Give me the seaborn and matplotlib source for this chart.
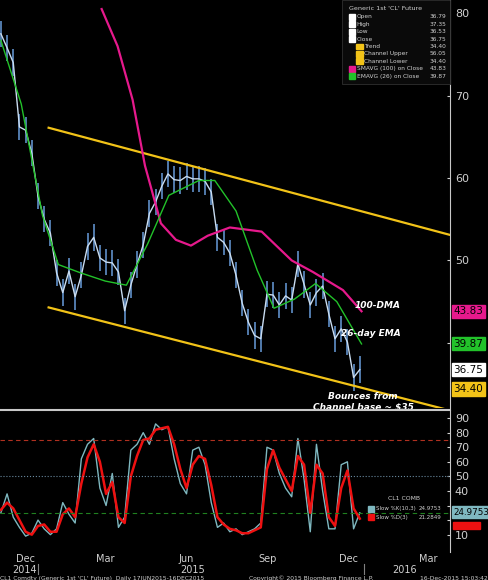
import matplotlib
matplotlib.use("Agg")
import matplotlib.pyplot as plt
import matplotlib.dates as mdates
import seaborn as sns
import pandas as pd
import numpy as np

# weekly closes, Generic 1st 'CL' Future
weeks = pd.date_range("2014-11-03", "2015-12-14", freq="7D")
close = [77.5, 75.8, 74.0, 66.2, 65.8, 63.0, 57.8, 55.0, 53.3, 48.5, 46.1, 48.7, 45.6,
         48.2, 51.7, 52.8, 50.3, 49.8, 49.7, 48.6, 43.9, 47.0, 49.5, 51.9, 55.7, 57.1,
         59.0, 60.5, 59.8, 59.7, 60.2, 59.9, 59.9, 59.6, 58.3, 52.8, 52.2, 50.9, 48.2,
         44.8, 42.5, 40.9, 40.5, 45.9, 45.8, 44.6, 45.7, 45.2, 49.6, 47.1, 44.6, 46.1,
         46.9, 43.5, 40.5, 41.7, 40.1, 35.8, 36.75]
high = [c + 1.6 for c in close]
low = [c - 1.6 for c in close]

sma_dates = pd.to_datetime(["2015-02-25", "2015-03-15", "2015-04-01", "2015-04-15", "2015-05-03",
                            "2015-05-20", "2015-06-06", "2015-06-25", "2015-07-20", "2015-08-25",
                            "2015-09-28", "2015-10-22", "2015-11-25", "2015-12-16"])
sma100 = [80.5, 76.0, 69.5, 61.5, 54.5, 52.5, 51.8, 53.0, 54.0, 53.5, 50.0, 48.6, 46.4, 43.83]

ema_dates = pd.to_datetime(["2014-11-03", "2014-11-26", "2014-12-20", "2015-01-07", "2015-02-01",
                            "2015-03-01", "2015-03-25", "2015-04-18", "2015-05-12", "2015-06-15",
                            "2015-07-03", "2015-07-27", "2015-08-20", "2015-09-08", "2015-10-01",
                            "2015-10-25", "2015-11-18", "2015-12-16"])
ema26 = [76.7, 69.0, 55.5, 49.5, 48.5, 47.5, 47.0, 52.0, 57.9, 59.7, 59.7, 56.0, 48.8,
         44.2, 45.3, 47.2, 45.0, 39.87]

chan_dates = pd.to_datetime(["2014-12-27", "2016-03-25"])
chan_upper = [66.1, 53.1]
chan_lower = [44.3, 31.8]

stoch_k = [25, 38, 22, 15, 9, 11, 20, 14, 10, 14, 32, 24, 18, 62, 72, 76, 42, 30, 52,
           15, 22, 68, 72, 80, 72, 86, 82, 84, 62, 45, 38, 68, 70, 58, 32, 15, 18, 12,
           14, 10, 12, 14, 18, 70, 68, 52, 42, 36, 76, 48, 12, 72, 40, 14, 14, 58, 60, 14, 25]
stoch_d = [27, 32, 28, 20, 12, 10, 16, 17, 12, 12, 24, 28, 22, 45, 63, 72, 60, 38, 46,
           22, 18, 50, 64, 75, 76, 82, 83, 84, 72, 55, 42, 58, 64, 62, 44, 22, 17, 14,
           13, 11, 11, 13, 15, 55, 68, 56, 48, 40, 64, 58, 25, 58, 52, 22, 16, 42, 54, 28, 21]

t_end = pd.Timestamp("2016-03-25")
bg = "black"
fig = plt.figure(figsize=(4.88, 5.8), dpi=100, facecolor=bg)
ax = fig.add_axes([0, 0.2966, 0.922, 0.7034], facecolor=bg)
ax2 = fig.add_axes([0, 0.048, 0.922, 0.245], facecolor=bg)

ax.vlines(weeks, low, high, color="#5f8fc9", lw=1.2)
sns.lineplot(x=weeks, y=close, ax=ax, color="#c9dcf0", lw=1.0)
sns.lineplot(x=chan_dates, y=chan_upper, ax=ax, color="#f2c318", lw=1.6)
sns.lineplot(x=chan_dates, y=chan_lower, ax=ax, color="#f2c318", lw=1.6)
sns.lineplot(x=sma_dates, y=sma100, ax=ax, color="#e6198c", lw=1.6)
sns.lineplot(x=ema_dates, y=ema26, ax=ax, color="#22c22a", lw=1.0)
ax.set_ylim(32.1, 81.6)

sns.lineplot(x=weeks, y=stoch_k, ax=ax2, color="#7fb8c0", lw=1.0)
sns.lineplot(x=weeks, y=stoch_d, ax=ax2, color="#ee1111", lw=1.8)
ax2.axhline(75, color="#b03020", ls=(0, (4, 3)), lw=0.8)
ax2.axhline(25, color="#208020", ls=(0, (4, 3)), lw=0.8)
ax2.axhline(50, color="#6a8aa0", ls=":", lw=0.8)
ax2.set_ylim(-2, 95.5)
ax2.set_yticks([10, 20, 30, 40, 50, 60, 70, 80, 90])
ax2.set_yticklabels(["10", "", "", "40", "50", "60", "70", "80", "90"])

for a in (ax, ax2):
    a.set_xlim(pd.Timestamp("2014-11-02"), t_end)
    a.yaxis.tick_right()
    a.tick_params(colors="#d0d0d0", labelsize=8, length=2, direction="in")
    for s in ("top", "left", "bottom"):
        a.spines[s].set_visible(False)
    a.spines["right"].set_color("#c8c8c8")
    a.set_xlabel("")
    a.set_ylabel("")
ax.set_xticks([])
ax.set_yticks([40, 50, 60, 70, 80])
ax.set_yticklabels(["", "50", "60", "70", "80"])
ax2.xaxis.set_major_locator(mdates.MonthLocator(bymonth=[3, 6, 9, 12]))
ax2.xaxis.set_major_formatter(mdates.DateFormatter("%b"))
ax2.tick_params(axis="x", labelsize=7, length=0, pad=1)
fig.add_artist(plt.Line2D([0, 0.922], [0.2931, 0.2931], color="#c8c8c8", lw=1.5))

# value tags on right
tags = [(ax, 43.83, "43.83", "#e6198c", "black", 7.5), (ax, 39.87, "39.87", "#22c22a", "black", 7.5),
        (ax, 36.75, "36.75", "white", "black", 7.5), (ax, 34.40, "34.40", "#f2c318", "black", 7.5),
        (ax2, 16.5, "21.2849", "#ee1111", "#ee1111", 4.5),
        (ax2, 25.5, "24.9753", "#7fb8c0", "black", 6.3)]
for a, v, s, c, tc, fs in tags:
    a.text(1.008, v, s, transform=a.get_yaxis_transform(), fontsize=fs, color=tc,
           va="center", ha="left", bbox=dict(boxstyle="square,pad=0.15", fc=c, ec=c))

ann = dict(color="white", fontsize=6.5, style="italic", fontweight="bold")
ax.text(pd.Timestamp("2015-12-08"), 44.2, "100-DMA", **ann)
ax.text(pd.Timestamp("2015-11-23"), 40.8, "26-day EMA", **ann)
ax.text(pd.Timestamp("2015-12-18"), 34.0, "Bounces from\nChannel base ~ $35", ha="center",
        va="top", linespacing=1.1, **ann)

# legend box
leg = [("Open", "36.79", "white"), ("High", "37.35", "white"), ("Low", "36.53", "white"),
       ("Close", "36.75", "white"), ("Trend", "34.40", "#f2c318"),
       ("Channel Upper", "56.05", "#f2c318"), ("Channel Lower", "34.40", "#f2c318"),
       ("SMAVG (100) on Close", "43.83", "#e6198c"), ("EMAVG (26) on Close", "39.87", "#22c22a")]
fig.patches.append(plt.Rectangle((0.70, 0.855), 0.222, 0.145, transform=fig.transFigure,
                                 fc="#0a0a0a", ec="#303030", lw=0.6))
fig.text(0.79, 0.99, "Generic 1st 'CL' Future", color="#d0d0d0", fontsize=4.6, va="top", ha="center")
for i, (n, v, c) in enumerate(leg):
    y = 0.976 - i * 0.0128
    x0 = 0.73 if 4 <= i <= 6 else 0.715
    fig.patches.append(plt.Rectangle((x0, y - 0.01), 0.013, 0.01, transform=fig.transFigure, color=c))
    fig.text(x0 + 0.016, y - 0.005, n, color="#d0d0d0", fontsize=4.2, va="center")
    fig.text(0.915, y - 0.005, v, color="#d0d0d0", fontsize=4.2, va="center", ha="right")
fig.text(0.86, 0.138, "CL1 COMB", color="#d0d0d0", fontsize=4.4, ha="right")
for i, (n, v, c) in enumerate([("Slow %K(10,3)", "24.9753", "#7fb8c0"), ("Slow %D(3)", "21.2849", "#ee1111")]):
    y = 0.123 - i * 0.015
    fig.patches.append(plt.Rectangle((0.755, y - 0.005), 0.012, 0.01, transform=fig.transFigure, color=c))
    fig.text(0.771, y, n, color="#d0d0d0", fontsize=4.0, va="center")
    fig.text(0.905, y, v, color="#d0d0d0", fontsize=4.0, va="center", ha="right")

for x, s in [(0.05, "2014"), (0.395, "2015"), (0.83, "2016")]:
    fig.text(x, 0.0175, s, color="#d0d0d0", fontsize=7, ha="center", va="center")
for x in (0.078, 0.745):
    fig.add_artist(plt.Line2D([x, x], [0.010, 0.028], color="#808080", lw=0.8))
fig.text(0.0, 0.0, "CL1 Comdty (Generic 1st 'CL' Future)  Daily 17JUN2015-16DEC2015",
         color="#d0d0d0", fontsize=4.3)
fig.text(0.51, 0.0, "Copyright\u00a9 2015 Bloomberg Finance L.P.", color="#d0d0d0", fontsize=4.3)
fig.text(1.0, 0.0, "16-Dec-2015 15:03:42", color="#d0d0d0", fontsize=4.3, ha="right")

fig.savefig("out.png", dpi=100, facecolor=bg)
